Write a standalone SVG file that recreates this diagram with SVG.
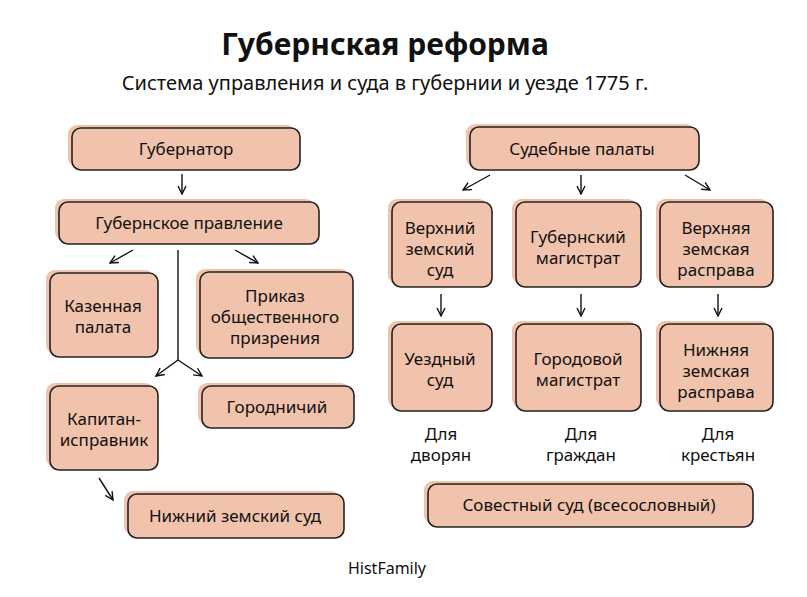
<svg xmlns="http://www.w3.org/2000/svg" width="807" height="597" viewBox="0 0 807 597">
<defs>
<marker id="ah" markerWidth="10" markerHeight="10" refX="9" refY="5" orient="auto" markerUnits="userSpaceOnUse"><path d="M1,1 L9,5 L1,9" fill="none" stroke="#111" stroke-width="1.4"/></marker>
<style>
.bg{fill:#f2c3ac}
.bx{fill:#f2c3ac;stroke:#222;stroke-width:1.6}
text{font-family:"Noto Sans","DejaVu Sans",sans-serif;fill:#111;text-anchor:middle}
.t{font-size:17px}
.c line,.c path{stroke:#111;stroke-width:1.4;fill:none}
</style>
</defs>
<rect width="807" height="597" fill="#fff"/>
<text x="385" y="55" style="font-size:30px;font-weight:bold">Губернская реформа</text>
<text x="385" y="90" style="font-size:20px">Система управления и суда в губернии и уезде 1775 г.</text>

<g class="c">
<line x1="182" y1="174" x2="182" y2="194" marker-end="url(#ah)"/>
<line x1="133" y1="250" x2="110" y2="263" marker-end="url(#ah)"/>
<line x1="235" y1="250" x2="258" y2="263" marker-end="url(#ah)"/>
<path d="M178 250 V360"/>
<line x1="178" y1="360" x2="156" y2="376" marker-end="url(#ah)"/>
<line x1="178" y1="360" x2="202" y2="376" marker-end="url(#ah)"/>
<line x1="99" y1="478" x2="113" y2="500" marker-end="url(#ah)"/>
<line x1="490" y1="175" x2="463" y2="190" marker-end="url(#ah)"/>
<line x1="581" y1="175" x2="581" y2="194" marker-end="url(#ah)"/>
<line x1="685" y1="175" x2="710" y2="190" marker-end="url(#ah)"/>
<line x1="441" y1="294" x2="441" y2="316" marker-end="url(#ah)"/>
<line x1="581" y1="294" x2="581" y2="316" marker-end="url(#ah)"/>
<line x1="718" y1="294" x2="718" y2="316" marker-end="url(#ah)"/>
</g>

<g id="n1"><rect class="bg" x="68" y="125" width="228" height="42" rx="9"/><rect class="bx" x="72" y="128" width="228" height="42" rx="9"/><text class="t" x="186" y="155">Губернатор</text></g>
<g id="n2"><rect class="bg" x="55" y="199" width="260" height="42" rx="9"/><rect class="bx" x="59" y="202" width="260" height="42" rx="9"/><text class="t" x="189" y="229">Губернское правление</text></g>
<g id="n3"><rect class="bg" x="46" y="270" width="108" height="84" rx="9"/><rect class="bx" x="50" y="273" width="108" height="84" rx="9"/><text class="t" x="103" y="312">Казенная</text><text class="t" x="103" y="333">палата</text></g>
<g id="n4"><rect class="bg" x="196" y="269" width="153" height="86" rx="9"/><rect class="bx" x="200" y="272" width="153" height="86" rx="9"/><text class="t" x="275" y="302">Приказ</text><text class="t" x="275" y="323">общественного</text><text class="t" x="275" y="344">призрения</text></g>
<g id="n5"><rect class="bg" x="46" y="383" width="108" height="84" rx="9"/><rect class="bx" x="50" y="386" width="108" height="84" rx="9"/><text class="t" x="104" y="425">Капитан-</text><text class="t" x="104" y="446">исправник</text></g>
<g id="n6"><rect class="bg" x="198" y="383" width="152" height="42" rx="9"/><rect class="bx" x="202" y="386" width="152" height="42" rx="9"/><text class="t" x="277" y="413">Городничий</text></g>
<g id="n7"><rect class="bg" x="124" y="491" width="216" height="44" rx="9"/><rect class="bx" x="128" y="494" width="216" height="44" rx="9"/><text class="t" x="235" y="522">Нижний земский суд</text></g>

<g id="r1"><rect class="bg" x="466" y="124" width="229" height="43" rx="9"/><rect class="bx" x="470" y="127" width="229" height="43" rx="9"/><text class="t" x="582" y="155">Судебные палаты</text></g>
<g id="r2"><rect class="bg" x="388" y="199" width="100" height="85" rx="9"/><rect class="bx" x="392" y="202" width="100" height="85" rx="9"/><text class="t" x="440" y="234">Верхний</text><text class="t" x="440" y="255">земский</text><text class="t" x="440" y="276">суд</text></g>
<g id="r3"><rect class="bg" x="512" y="199" width="125" height="85" rx="9"/><rect class="bx" x="516" y="202" width="125" height="85" rx="9"/><text class="t" x="578" y="243">Губернский</text><text class="t" x="578" y="264">магистрат</text></g>
<g id="r4"><rect class="bg" x="656" y="199" width="113" height="85" rx="9"/><rect class="bx" x="660" y="202" width="113" height="85" rx="9"/><text class="t" x="716" y="234">Верхняя</text><text class="t" x="716" y="255">земская</text><text class="t" x="716" y="276">расправа</text></g>
<g id="r5"><rect class="bg" x="388" y="321" width="100" height="87" rx="9"/><rect class="bx" x="392" y="324" width="100" height="87" rx="9"/><text class="t" x="440" y="365">Уездный</text><text class="t" x="440" y="386">суд</text></g>
<g id="r6"><rect class="bg" x="512" y="321" width="125" height="87" rx="9"/><rect class="bx" x="516" y="324" width="125" height="87" rx="9"/><text class="t" x="578" y="365">Городовой</text><text class="t" x="578" y="386">магистрат</text></g>
<g id="r7"><rect class="bg" x="656" y="321" width="113" height="87" rx="9"/><rect class="bx" x="660" y="324" width="113" height="87" rx="9"/><text class="t" x="716" y="356">Нижняя</text><text class="t" x="716" y="377">земская</text><text class="t" x="716" y="398">расправа</text></g>
<text class="t" x="441" y="440">Для</text><text class="t" x="441" y="461">дворян</text>
<text class="t" x="581" y="440">Для</text><text class="t" x="581" y="461">граждан</text>
<text class="t" x="718" y="440">Для</text><text class="t" x="718" y="461">крестьян</text>
<g id="r8"><rect class="bg" x="424" y="481" width="325" height="43" rx="9"/><rect class="bx" x="428" y="484" width="325" height="43" rx="9"/><text class="t" x="589" y="511">Совестный суд (всесословный)</text></g>
<text x="387" y="574" style="font-size:16px">HistFamily</text>
</svg>
